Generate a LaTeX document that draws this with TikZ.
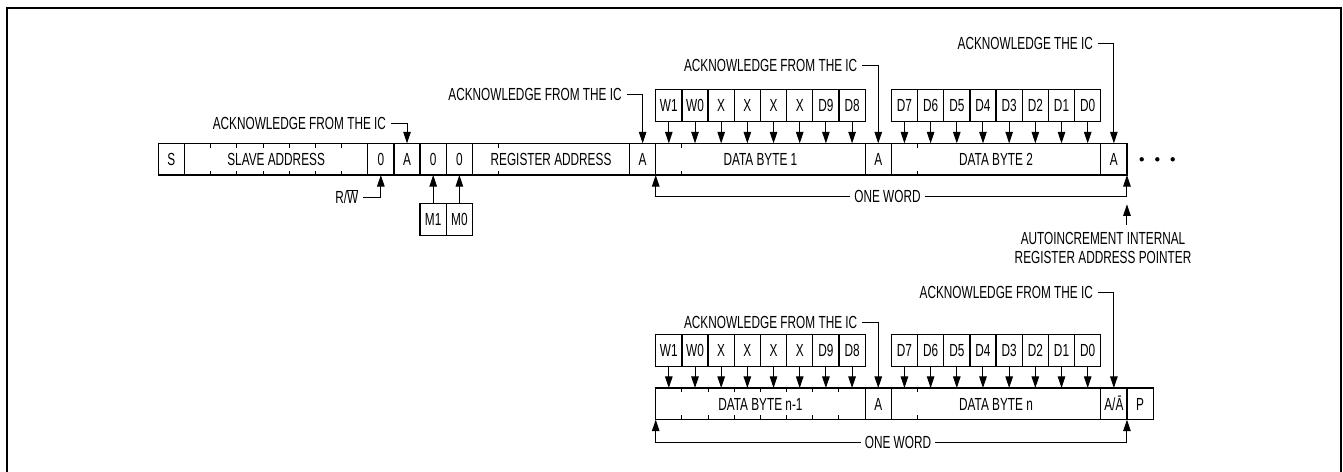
\documentclass[tikz,border=0pt]{standalone}
\usepackage{fontspec}
\setmainfont{Liberation Sans}[FakeStretch=0.675]
\usetikzlibrary{arrows.meta}
\newcommand\cx[1]{158.3+(#1)*26.18}
\tikzset{
  txt/.style={font=\fontsize{17.5}{19.4}\selectfont, text height=12.5pt, text depth=0pt, inner sep=0pt, outer sep=0pt},
  fld/.style={txt, draw, line width=1.3pt, minimum height=31.7pt},
  bitbox/.style={fld, minimum width=26.18pt},
  databox/.style={bitbox, minimum height=32.4pt},
  lbl/.style={txt, inner xsep=5pt, anchor=east},
  arr/.style={line width=1pt, -{Triangle[length=11.5pt,width=7.5pt]}},
  tickmark/.style={line width=1pt},
}
\begin{document}
\begin{tikzpicture}[x=1pt,y=-1pt]
\useasboundingbox (0,0) rectangle (1343,471);
% frame
\draw[line width=2pt] (6.7,472) -- (6.7,8) -- (1340.7,8) -- (1340.7,472);

% ---------------- upper row ----------------
\node[bitbox] (s) at ({\cx{0.5}},159.2) {S};
\node[fld,minimum width=7*26.18pt] (sa) at ({\cx{4.5}},159.2) {SLAVE ADDRESS};
\node[bitbox] (rw0) at ({\cx{8.5}},159.2) {0};
\node[bitbox] (a1) at ({\cx{9.5}},159.2) {A};
\node[bitbox] (z1) at ({\cx{10.5}},159.2) {0};
\node[bitbox] (z0) at ({\cx{11.5}},159.2) {0};
\node[fld,minimum width=6*26.18pt] (ra) at ({\cx{15}},159.2) {REGISTER ADDRESS};
\node[bitbox] (a2) at ({\cx{18.5}},159.2) {A};
\node[fld,minimum width=8*26.18pt] (db1) at ({\cx{23}},159.2) {DATA BYTE 1};
\node[bitbox] (a3) at ({\cx{27.5}},159.2) {A};
\node[fld,minimum width=8*26.18pt] (db2) at ({\cx{32}},159.2) {DATA BYTE 2};
\node[bitbox] (a4) at ({\cx{36.5}},159.2) {A};
\foreach \k in {2,...,7,13,...,17,20,...,26,29,...,35}{
  \draw[tickmark] ({\cx{\k}},143.35) -- ++(0,4.3);
  \draw[tickmark] ({\cx{\k}},175.05) -- ++(0,-4.3);
}
\foreach \t [count=\i from 0] in {W1,W0,X,X,X,X,D9,D8}{
  \node[databox] (w\i) at ({\cx{19.5+\i}},105.5) {\t};
  \draw[arr] (w\i.south) -- (w\i.south |- db1.north);
}
\foreach \t [count=\i from 0] in {D7,D6,D5,D4,D3,D2,D1,D0}{
  \node[databox] (d\i) at ({\cx{28.5+\i}},105.5) {\t};
  \draw[arr] (d\i.south) -- (d\i.south |- db2.north);
}
\node[lbl] (k1) at ({\cx{9.5}-16},123) {ACKNOWLEDGE FROM THE IC};
\draw[arr] (k1.east) -| (a1.north);
\node[lbl] (k2) at ({\cx{18.5}-16},94.5) {ACKNOWLEDGE FROM THE IC};
\draw[arr] (k2.east) -| (a2.north);
\node[lbl] (k3) at ({\cx{27.5}-16},65.5) {ACKNOWLEDGE FROM THE IC};
\draw[arr] (k3.east) -| (a3.north);
\node[lbl] (k4) at ({\cx{36.5}-16},43.3) {ACKNOWLEDGE THE IC};
\draw[arr] (k4.east) -| (a4.north);

\node[lbl] (rwl) at ({\cx{8.5}-17.5},197.7) {R/$\overline{\mbox{W}}$};
\draw[arr] (rwl.east) -| (rw0.south);
\node[databox] (m1) at ({\cx{10.5}},219.5) {M1};
\node[databox] (m0) at ({\cx{11.5}},219.5) {M0};
\draw[arr] (m1.north) -- (m1.north |- z1.south);
\draw[arr] (m0.north) -- (m0.north |- z0.south);

\node[txt, inner xsep=4pt] (ow1) at (887.5,196.7) {ONE WORD};
\draw[arr] (ow1.west) -| (db1.south west);
\draw[arr] (ow1.east) -| (a4.south east);

\foreach \x [count=\j] in {1141.7,1157.3,1172.7}
  \node[circle,fill,inner sep=0pt,minimum size=4.4pt] (dot\j) at (\x,159.3) {};

\node[font=\fontsize{17.5}{19.4}\selectfont, inner sep=0pt, align=center, anchor=north] (auto) at (1103,232) {AUTOINCREMENT INTERNAL\\REGISTER ADDRESS POINTER};
\coordinate (autotop) at ([yshift=7pt]auto.north);
\draw[arr, shorten >=7.6pt] (autotop -| a4.south east) -- (a4.south east |- ow1.east);

% ---------------- lower row ----------------
\node[fld,minimum width=8*26.18pt] (db3) at ({\cx{23}},403.8) {DATA BYTE n-1};
\node[bitbox] (a5) at ({\cx{27.5}},403.8) {A};
\node[fld,minimum width=8*26.18pt] (db4) at ({\cx{32}},403.8) {DATA BYTE n};
\node[bitbox] (a6) at ({\cx{36.5}},403.8) {A/Ā};
\node[bitbox] (p) at ({\cx{37.5}},403.8) {P};
\foreach \k in {20,...,26,29,...,35}{
  \draw[tickmark] ({\cx{\k}},387.95) -- ++(0,4.3);
  \draw[tickmark] ({\cx{\k}},419.65) -- ++(0,-4.3);
}
\foreach \t [count=\i from 0] in {W1,W0,X,X,X,X,D9,D8}{
  \node[databox] (lw\i) at ({\cx{19.5+\i}},350.6) {\t};
  \draw[arr] (lw\i.south) -- (lw\i.south |- db3.north);
}
\foreach \t [count=\i from 0] in {D7,D6,D5,D4,D3,D2,D1,D0}{
  \node[databox] (ld\i) at ({\cx{28.5+\i}},350.6) {\t};
  \draw[arr] (ld\i.south) -- (ld\i.south |- db4.north);
}
\node[lbl] (k5) at ({\cx{27.5}-16},322) {ACKNOWLEDGE FROM THE IC};
\draw[arr] (k5.east) -| (a5.north);
\node[lbl] (k6) at ({\cx{36.5}-16},292) {ACKNOWLEDGE FROM THE IC};
\draw[arr] (k6.east) -| (a6.north);

\node[txt, inner xsep=4pt] (ow2) at (898,442) {ONE WORD};
\draw[arr] (ow2.west) -| (db3.south west);
\draw[arr] (ow2.east) -| (a6.south east);
\end{tikzpicture}
\end{document}
